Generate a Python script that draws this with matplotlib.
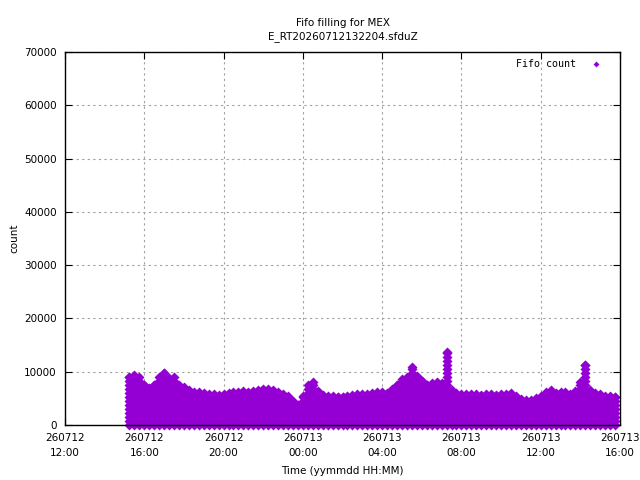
import matplotlib
matplotlib.use('Agg')
import matplotlib.pyplot as plt
import numpy as np

# hours since 260712 12:00, one column of samples every 15 min
t_start = 3.25
t_step = 0.25
# highest fifo count of each column
peaks = [9100, 9300, 9000, 7600, 7000, 7600, 9000, 9800, 8800, 9000,
         7500, 7200, 6500, 6200, 6100, 6000, 5900, 5800, 5700, 5900,
         6000, 6100, 6200, 6300, 6200, 6300, 6500, 6700, 6700, 6600,
         6200, 5800, 5400, 4500, 3800, 5400, 7500, 8000, 6400, 5600,
         5400, 5400, 5300, 5300, 5500, 5700, 5800, 5800, 5900, 6000,
         6100, 6100, 6000, 6700, 7600, 8600, 9000, 10800, 9200, 8300,
         7600, 7900, 8000, 7800, 13700, 6600, 6000, 5900, 5800, 5800,
         5800, 5700, 5800, 5800, 5700, 5800, 5900, 6000, 5400, 4900,
         4700, 4600, 5000, 5500, 6100, 6600, 6000, 6200, 6200, 5800,
         6400, 8000, 11300, 6600, 6000, 5800, 5500, 5400, 5300]
# fill level spacing inside each cycle
level_step = 750

xtick_hours = [0, 4, 8, 12, 16, 20, 24, 28]
xtick_labels = ['260712\n12:00', '260712\n16:00', '260712\n20:00', '260713\n00:00',
                '260713\n04:00', '260713\n08:00', '260713\n12:00', '260713\n16:00']
yticks = [0, 10000, 20000, 30000, 40000, 50000, 60000, 70000]

color = '#9400d3'


def main():
	plt.rcParams['font.family'] = ['DejaVu Sans']
	fig = plt.figure(figsize=(6.4, 4.8), dpi=100)
	ax = fig.add_axes([65/640, 55/480, 555/640, 373/480])

	xs = []
	ys = []
	for i, p in enumerate(peaks):
		t = t_start + i*t_step
		lv = list(np.arange(0, p, level_step)) + [p]
		xs += [t]*len(lv)
		ys += lv
	ax.scatter(xs, ys, marker='D', s=26, color=color, linewidths=0, clip_on=False, zorder=3)
	ax.scatter([], [], marker='D', s=9, color=color, linewidths=0, label='Fifo count')

	ax.set_xlim(0, 28)
	ax.set_ylim(0, 70000)
	ax.set_xticks(xtick_hours)
	ax.set_xticklabels(xtick_labels, fontsize=7.5, linespacing=1.6)
	ax.set_yticks(yticks)
	ax.set_yticklabels([str(v) for v in yticks], fontsize=7.5)
	ax.tick_params(direction='in', top=True, right=True, length=5, pad=6)
	ax.grid(True, linestyle=(0, (2, 3)), color='#a0a0a0', linewidth=0.8)
	for s in ax.spines.values():
		s.set_linewidth(1.0)
		s.set_zorder(4)

	ax.set_xlabel('Time (yymmdd HH:MM)', fontsize=7.5, labelpad=6)
	ax.set_ylabel('count', fontsize=7.5, labelpad=3)
	ax.set_title('Fifo filling for MEX\nE_RT20260712132204.sfduZ', fontsize=7.5, linespacing=1.5, pad=9)
	ax.legend(loc='upper right', bbox_to_anchor=(1 - 9/555, 1 - 2/373), frameon=False,
		prop={'family': 'DejaVu Sans Mono', 'size': 7.2},
		markerfirst=False, handletextpad=1.0, borderaxespad=0, borderpad=0.5)

	fig.savefig('out.png', dpi=100)


if __name__ == '__main__':
	main()
